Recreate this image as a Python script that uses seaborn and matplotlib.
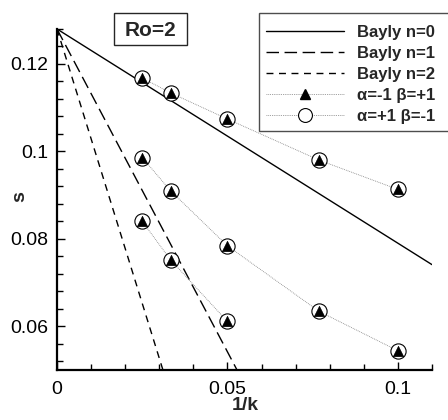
import numpy as np
import pandas as pd
import matplotlib
matplotlib.use("Agg")
import matplotlib.pyplot as plt
from matplotlib.lines import Line2D
from matplotlib.patches import Rectangle
from matplotlib.ticker import MultipleLocator, FixedLocator
import seaborn as sns

# 1/k values at which the simulations were run (k = 40, 30, 20, 13, 10)
inv_k = [0.025, 0.0333, 0.05, 0.0769, 0.1]

# growth rate s for the three mode families
s_mode0 = [0.1168, 0.1134, 0.1074, 0.0980, 0.0913]
s_mode1 = [0.0986, 0.0910, 0.0784, 0.0634, 0.0544]
s_mode2 = [0.0840, 0.0752, 0.0611]

# Bayly theory: s = s0 + slope * (1/k)
bayly_s0 = 0.128
bayly_slope = [-0.49, -1.477, -2.51]
bayly_labels = ["Bayly n=0", "Bayly n=1", "Bayly n=2"]
sim_labels = ["α=-1 β=+1", "α=+1 β=-1"]

xticks = [0, 0.05, 0.1]
xtick_labels = ["0", "0.05", "0.1"]
yticks = [0.06, 0.08, 0.1, 0.12]
ytick_labels = ["0.06", "0.08", "0.1", "0.12"]

sns.set_theme(style="white")
plt.rcParams["font.family"] = ["Liberation Sans", "DejaVu Sans"]

W, H = 448, 420
fig = plt.figure(figsize=(W / 100, H / 100), dpi=100)
ax = fig.add_axes([57 / W, 1 - 370 / H, 375 / W, 341 / H])

# theory lines
xline = np.array([0.0, 0.11])
dash_styles = ["-", (0, (9, 4)), (0, (5, 4))]
rows = []
for lab, m in zip(bayly_labels, bayly_slope):
    for xv in xline:
        rows.append({"x": xv, "s": bayly_s0 + m * xv, "curve": lab})
theory = pd.DataFrame(rows)
for lab, ls in zip(bayly_labels, dash_styles):
    sub = theory[theory["curve"] == lab]
    sns.lineplot(data=sub, x="x", y="s", ax=ax, color="black", lw=1.0,
                 linestyle=ls, legend=False, sort=False)

# simulation results (both alpha/beta sign combinations coincide)
sim_rows = []
for gid, vals in enumerate([s_mode0, s_mode1, s_mode2]):
    for xv, sv in zip(inv_k, vals):
        sim_rows.append({"x": xv, "s": sv, "group": gid})
sim = pd.DataFrame(sim_rows)
dot_style = (0, (1, 1.2))
for gid in range(3):
    sub = sim[sim["group"] == gid]
    sns.lineplot(data=sub, x="x", y="s", ax=ax, color="0.5", lw=0.6,
                 linestyle=dot_style, legend=False, zorder=3)
    sns.scatterplot(data=sub, x="x", y="s", ax=ax, marker="o", s=120,
                    facecolor="white", edgecolor="black", linewidth=0.8,
                    legend=False, zorder=4)
    sns.scatterplot(data=sub, x="x", y="s", ax=ax, marker="^", s=55,
                    color="black", edgecolor="black", linewidth=0.5,
                    legend=False, zorder=5)

ax.set_xlim(0, 0.11)
ax.set_ylim(0.05, 0.128)
ax.xaxis.set_major_locator(FixedLocator(xticks))
ax.xaxis.set_minor_locator(MultipleLocator(0.01))
ax.yaxis.set_major_locator(FixedLocator(yticks))
ax.yaxis.set_minor_locator(MultipleLocator(0.004))
ax.set_xticklabels(xtick_labels)
ax.set_yticklabels(ytick_labels)
ax.tick_params(which="both", direction="in", left=True, bottom=True,
               top=False, right=False, width=1.0, colors="black",
               labelsize=14)
ax.tick_params(axis="x", pad=8)
ax.tick_params(axis="y", pad=6)
ax.tick_params(which="major", length=6)
ax.tick_params(which="minor", length=4.5)
for side in ["top", "right"]:
    ax.spines[side].set_visible(False)
for side in ["left", "bottom"]:
    ax.spines[side].set_linewidth(1.6)
    ax.spines[side].set_color("black")

ax.set_xlabel("1/k", fontsize=14, fontweight="bold")
ax.xaxis.label.set_va("center")
ax.xaxis.set_label_coords((245 - 57) / 375, -(405 - 370) / 341)
ax.set_ylabel("s", fontsize=14, fontweight="bold")
ax.yaxis.label.set_va("center")
ax.yaxis.set_label_coords((20 - 57) / 375, (370 - 197) / 341)

# Rossby number tag
fig.patches.append(Rectangle((114 / W, 1 - 45 / H), 73 / W, 32 / H,
                             transform=fig.transFigure, fc="white",
                             ec="0.15", lw=1.0, zorder=5))
fig.text(150.5 / W, 1 - 30 / H, "Ro=2", fontsize=15, fontweight="bold",
         ha="center", va="center", zorder=6)

# legend frame and entries
fig.patches.append(Rectangle((259 / W, 1 - 131 / H), 190 / W, 118 / H,
                             transform=fig.transFigure, fc="white",
                             ec="0.3", lw=1.0, zorder=5))
handles = [
    Line2D([], [], color="black", lw=1.0, linestyle=dash_styles[0]),
    Line2D([], [], color="black", lw=1.0, linestyle=dash_styles[1]),
    Line2D([], [], color="black", lw=1.0, linestyle=dash_styles[2]),
    Line2D([], [], color="0.5", lw=0.6, linestyle=dot_style, marker="^",
           markersize=7, markerfacecolor="black", markeredgecolor="black"),
    Line2D([], [], color="0.5", lw=0.6, linestyle=dot_style, marker="o",
           markersize=10, markerfacecolor="white", markeredgecolor="black",
           markeredgewidth=0.8),
]
leg = fig.legend(handles, bayly_labels + sim_labels, loc="upper left",
                 bbox_to_anchor=(266 / W, 1 - 25 / H),
                 prop={"size": 12, "weight": "bold"}, frameon=False,
                 handlelength=4.7, handletextpad=0.75, labelspacing=0.36,
                 borderpad=0, borderaxespad=0)
leg.set_zorder(7)

fig.savefig("out.png", dpi=100)
